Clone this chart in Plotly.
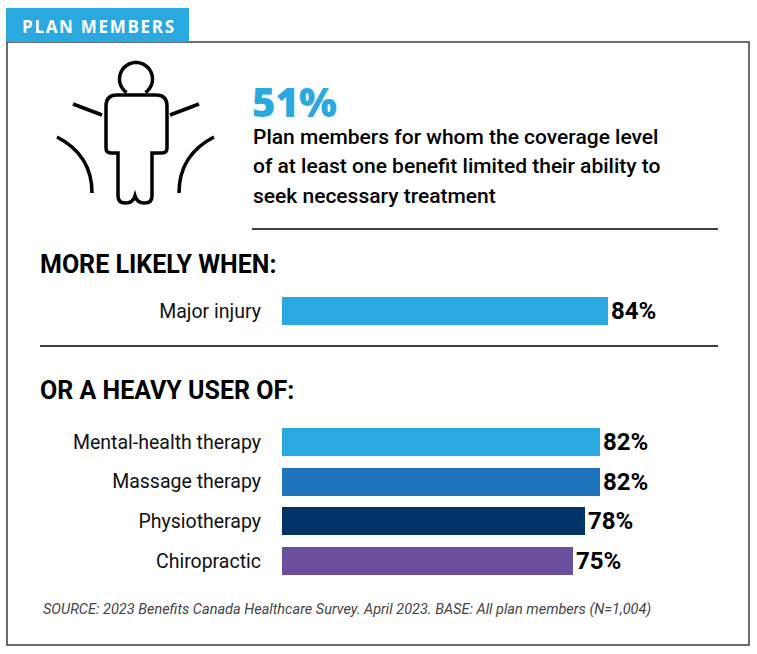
import math
import plotly.graph_objects as go

# chart data
likely_cats = ["Major injury"]
likely_vals = [84]
user_cats = ["Mental-health therapy", "Massage therapy", "Physiotherapy", "Chiropractic"]
user_vals = [82, 82, 78, 75]

headline_value = "51%"
headline_lines = ["Plan members for whom the coverage level",
                  "of at least one benefit limited their ability to",
                  "seek necessary treatment"]
source_text = "SOURCE: 2023 Benefits Canada Healthcare Survey. April 2023. BASE: All plan members (N=1,004)"

# styles
likely_colors = ["#29a9e0"]
user_colors = ["#29a9e0", "#1f75bc", "#003466", "#6a4f9d"]
BLUE = "#29a9e0"
COND = "Roboto, sans-serif"
W, H = 757, 654


def px(x):
    return x / W


def py(y):
    return 1 - y / H


def path(points):
    return "M " + " L ".join(f"{px(x):.5f},{py(y):.5f}" for x, y in points)


def qpath(cmds):
    # cmds: list of (letter, [x, y, ...]) in pixel coordinates
    out = []
    for c, pts in cmds:
        coords = [f"{px(pts[i]):.5f},{py(pts[i + 1]):.5f}" for i in range(0, len(pts), 2)]
        out.append(c + " " + " ".join(coords))
    return " ".join(out)


fig = go.Figure()

fig.add_trace(go.Bar(
    x=likely_vals, y=likely_cats, orientation="h", width=1,
    marker=dict(color=likely_colors, line=dict(width=0)),
    text=[f"{v}%" for v in likely_vals], textposition="outside",
    textfont=dict(family=COND, size=24, color="black", weight="bold"),
    constraintext="none", cliponaxis=False, hoverinfo="skip",
    xaxis="x", yaxis="y"))

fig.add_trace(go.Bar(
    x=user_vals, y=user_cats, orientation="h", width=0.7,
    marker=dict(color=user_colors, line=dict(width=0)),
    text=[f"{v}%" for v in user_vals], textposition="outside",
    textfont=dict(family=COND, size=24, color="black", weight="bold"),
    constraintext="none", cliponaxis=False, hoverinfo="skip",
    xaxis="x2", yaxis="y2"))

tickfont = dict(family=COND, size=19.5, color="#111")
xdom = [px(282), px(670)]

shapes = [
    # outer frame and header tab
    dict(type="rect", xref="paper", yref="paper", x0=px(7), x1=px(749), y0=py(645), y1=py(42),
         line=dict(color="#3c3c3c", width=1.5)),
    dict(type="rect", xref="paper", yref="paper", x0=px(6), x1=px(189), y0=py(42), y1=py(8),
         fillcolor=BLUE, line=dict(width=0)),
    # separators
    dict(type="line", xref="paper", yref="paper", x0=px(252), x1=px(718), y0=py(229), y1=py(229),
         line=dict(color="black", width=1.5)),
    dict(type="line", xref="paper", yref="paper", x0=px(40), x1=px(718), y0=py(346), y1=py(346),
         line=dict(color="black", width=1.5)),
]

# person icon
icon_line = dict(color="black", width=3.5)
head = []
start, end = math.radians(-55), math.radians(235)
for i in range(49):
    a = start + (end - start) * i / 48
    head.append((136 + 16.5 * math.cos(a), 79 - 16.5 * math.sin(a)))
shapes.append(dict(type="path", xref="paper", yref="paper", path=path(head), line=icon_line))

body = qpath([
    ("M", [118, 153]), ("L", [118, 196]), ("Q", [118, 203, 125.5, 203]), ("Q", [133, 203, 135, 196]),
    ("Q", [137, 203, 144.5, 203]), ("Q", [152, 203, 152, 196]), ("L", [152, 153]),
    ("L", [162, 153]), ("Q", [167, 153, 167, 148]), ("L", [167, 106]), ("Q", [167, 95, 156, 95]),
    ("L", [117, 95]), ("Q", [106, 95, 106, 106]), ("L", [106, 148]), ("Q", [106, 153, 111, 153]),
]) + " Z"
shapes.append(dict(type="path", xref="paper", yref="paper", path=body, line=icon_line))
shapes.append(dict(type="path", xref="paper", yref="paper", path=path([(73, 104), (102, 115)]), line=icon_line))
shapes.append(dict(type="path", xref="paper", yref="paper", path=path([(170, 115), (199, 104)]), line=icon_line))
shapes.append(dict(type="path", xref="paper", yref="paper",
                   path=qpath([("M", [57, 137]), ("Q", [92, 155, 92, 193])]), line=icon_line))
shapes.append(dict(type="path", xref="paper", yref="paper",
                   path=qpath([("M", [214, 137]), ("Q", [179, 155, 179, 193])]), line=icon_line))


def note(text, x, y, size, color="black", family=COND, weight="normal", style="normal"):
    return dict(text=text, xref="paper", yref="paper", x=px(x), y=py(y), xanchor="left", yanchor="middle",
                showarrow=False, align="left",
                font=dict(family=family, size=size, color=color, weight=weight, style=style))


annotations = [
    note("\u200a".join("PLAN MEMBERS"), 20, 26, 17, color="white", family="Open Sans, sans-serif", weight="bold"),
    note(headline_value, 250, 102, 40, color=BLUE, family="Open Sans, sans-serif", weight=800),
    note("MORE LIKELY WHEN:", 38, 264, 25, weight="bold"),
    note("OR A HEAVY USER OF:", 38, 390, 25, weight="bold"),
    note(source_text, 41, 609, 14.5, color="#444", style="italic"),
]
for i, line in enumerate(headline_lines):
    annotations.append(note(line, 251, 137 + i * 29.5, 21, family="Roboto, sans-serif", weight=500))

fig.update_layout(
    width=W, height=H, margin=dict(l=0, r=0, t=0, b=0),
    paper_bgcolor="white", plot_bgcolor="rgba(0,0,0,0)",
    showlegend=False, bargap=0,
    xaxis=dict(domain=xdom, range=[0, 100], visible=False, fixedrange=True),
    yaxis=dict(domain=[py(325), py(297)], range=[-0.5, 0.5], type="category",
               showgrid=False, zeroline=False, showline=False, ticks="",
               tickfont=tickfont, ticklabelstandoff=20, fixedrange=True),
    xaxis2=dict(domain=xdom, range=[0, 100], visible=False, anchor="y2", fixedrange=True),
    yaxis2=dict(domain=[py(581), py(422)], type="category", categoryorder="array",
                categoryarray=user_cats, range=[3.5, -0.5], anchor="x2",
                showgrid=False, zeroline=False, showline=False, ticks="",
                tickfont=tickfont, ticklabelstandoff=20, fixedrange=True),
    shapes=shapes, annotations=annotations,
)

# the page body has a default 8px margin; remove it so the figure sits at the window origin
fig.write_html("out.html", config={"displayModeBar": False},
               post_script="document.body.style.margin='0';")
